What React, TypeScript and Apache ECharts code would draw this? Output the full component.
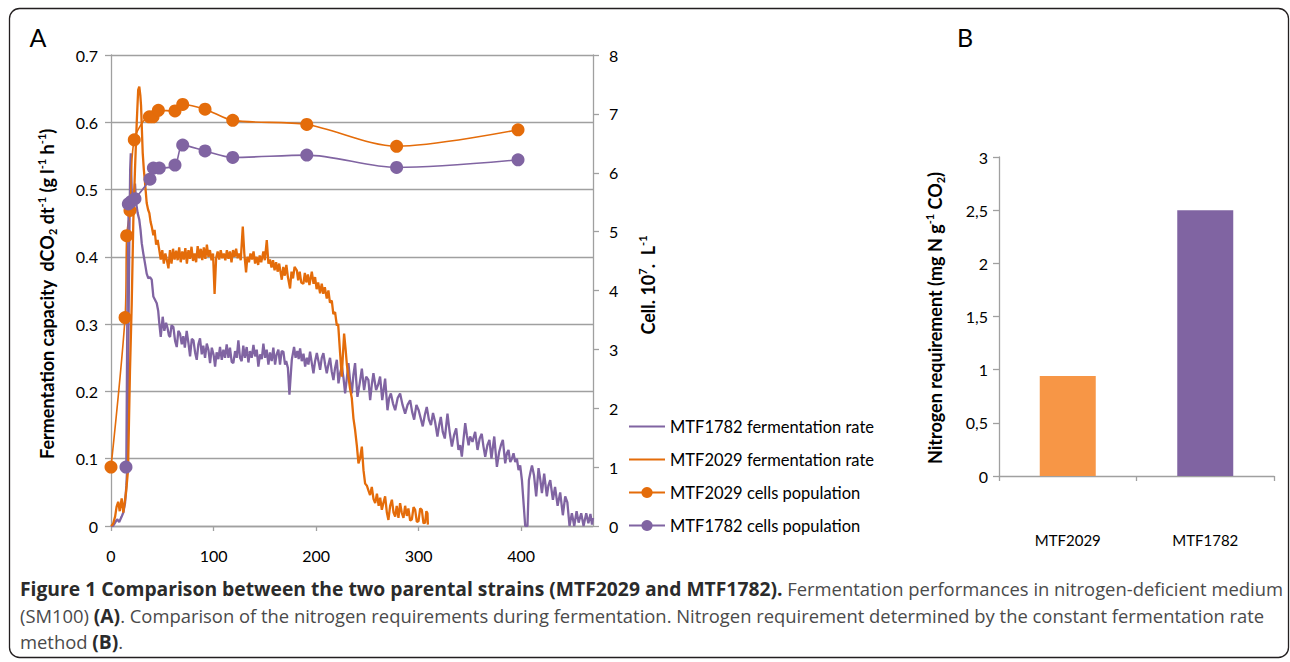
import React, { useEffect, useRef } from "react";
import * as echarts from "echarts";

// ---------- Panel A data ----------
const xTicksA = [0, 100, 200, 300, 400];
const rateTicks = [0, 0.1, 0.2, 0.3, 0.4, 0.5, 0.6, 0.7];
const cellTicks = [0, 1, 2, 3, 4, 5, 6, 7, 8];

// MTF2029 cells population (time h, cells 10^7/L)
const mtf2029CellTimes = [0, 13.7, 15.3, 18.5, 22.7, 37.4, 41, 46.2, 62.4, 69.9, 91.7, 118.7, 190.9, 278.5, 396.9];
const mtf2029Cells = [1.0, 3.54, 4.93, 5.36, 6.56, 6.95, 6.95, 7.06, 7.05, 7.16, 7.08, 6.89, 6.82, 6.45, 6.73];

// MTF1782 cells population
const mtf1782CellTimes = [14.6, 16.9, 19.5, 23.4, 38, 41.3, 47.1, 62.4, 69.9, 91.7, 118.7, 190.9, 278.5, 396.9];
const mtf1782Cells = [1.0, 5.47, 5.51, 5.56, 5.89, 6.08, 6.08, 6.13, 6.47, 6.37, 6.26, 6.3, 6.09, 6.22];

// MTF2029 fermentation rate [time h, dCO2/dt]
const mtf2029Rate = [
  [0, 0], [2, 0.003], [4, 0.014], [5.5, 0.029], [7, 0.036], [8.5, 0.022], [10.4, 0.041], [12, 0.02], [14.6, 0.049],
  [16.6, 0.083], [18.5, 0.23], [20.2, 0.33], [21.8, 0.455], [23.4, 0.53], [25.1, 0.6], [26.5, 0.648], [27.6, 0.653],
  [28.6, 0.64], [29.3, 0.625], [30.9, 0.555], [32, 0.53], [33.2, 0.51], [34.8, 0.48], [36.2, 0.47], [37.4, 0.465],
  [38.6, 0.452], [39.7, 0.445], [41.3, 0.432], [42.5, 0.44], [44, 0.418], [45.5, 0.425], [47.1, 0.41], [48.5, 0.396],
  [50, 0.41], [51.5, 0.39], [53, 0.405], [54.5, 0.395], [56, 0.383], [57.5, 0.41], [59, 0.39], [60.5, 0.412],
  [62, 0.396], [63.5, 0.409], [65, 0.395], [66.5, 0.414], [68, 0.392], [69.5, 0.408], [71, 0.396], [72.5, 0.413],
  [74, 0.39], [75.5, 0.41], [77, 0.397], [78.5, 0.415], [80, 0.394], [81.5, 0.405], [83, 0.392], [84.5, 0.416],
  [86, 0.398], [87.5, 0.412], [89, 0.395], [90.5, 0.414], [92, 0.397], [93.5, 0.418], [95, 0.4], [96.5, 0.41],
  [98, 0.395], [99.5, 0.405], [101, 0.345], [102.5, 0.398], [104, 0.408], [105.5, 0.396], [107, 0.41], [108.5, 0.398],
  [110, 0.405], [111.5, 0.395], [113, 0.41], [114.5, 0.397], [116, 0.408], [117.5, 0.392], [119, 0.41], [120.5, 0.4],
  [122, 0.412], [123.5, 0.398], [125, 0.405], [126.5, 0.395], [128.5, 0.445], [130, 0.405], [131.7, 0.377], [133, 0.4],
  [134.5, 0.392], [136, 0.405], [137.5, 0.396], [139, 0.408], [140.5, 0.39], [142, 0.4], [143.5, 0.388], [145, 0.402],
  [146.5, 0.392], [148.6, 0.408], [150, 0.395], [151.9, 0.425], [153.5, 0.39], [155, 0.396], [156.5, 0.384], [158, 0.395],
  [159.5, 0.38], [161, 0.392], [162.5, 0.378], [164, 0.39], [166.5, 0.366], [168, 0.385], [169.5, 0.372], [171, 0.388],
  [172.5, 0.37], [174.6, 0.353], [176, 0.378], [177.5, 0.368], [179, 0.385], [181.2, 0.38], [182.5, 0.365], [184, 0.378],
  [185.5, 0.362], [187.6, 0.36], [189, 0.376], [190.5, 0.362], [192, 0.374], [193.5, 0.358], [195.8, 0.378], [197.5, 0.36],
  [199, 0.37], [200.5, 0.352], [202, 0.362], [203.9, 0.346], [205.5, 0.36], [207, 0.345], [208.5, 0.355], [210.4, 0.338],
  [212, 0.35], [213.5, 0.332], [215.3, 0.335], [216.8, 0.315], [218.5, 0.318], [220.2, 0.298], [221.5, 0.3], [223.4, 0.257],
  [225, 0.222], [226, 0.25], [227.3, 0.286], [228.8, 0.262], [230, 0.24], [231.5, 0.222], [233, 0.205], [234.8, 0.19],
  [236.4, 0.16], [238, 0.143], [239.7, 0.12], [241.3, 0.093], [242.8, 0.1], [244.6, 0.118], [246.2, 0.083], [247.8, 0.063],
  [249.5, 0.06], [251, 0.053], [252.6, 0.046], [254.3, 0.058], [256, 0.04], [257.6, 0.034], [259.3, 0.048], [261, 0.03],
  [262.5, 0.042], [264.1, 0.024], [265.7, 0.035], [267.3, 0.044], [269, 0.02], [270.5, 0.009], [272.2, 0.03], [273.9, 0.039],
  [275.5, 0.02], [277.1, 0.014], [278.6, 0.03], [280.3, 0.012], [281.9, 0.034], [283.5, 0.02], [285.2, 0.012], [286.8, 0.03],
  [288.5, 0.015], [290, 0.026], [291.7, 0.008], [293.4, 0.01], [295, 0.028], [296.6, 0.024], [298.2, 0.006], [299.8, 0.007],
  [301.5, 0.026], [303.1, 0.024], [304.7, 0.004], [306.3, 0.005], [307.5, 0.022], [308.6, 0.019], [309, 0.002],
];

// MTF1782 fermentation rate [time h, dCO2/dt]
const mtf1782Rate = [
  [0, 0], [2, 0], [4, 0.005], [6, 0.01], [8, 0.006], [10.4, 0.014], [12, 0.02], [13.7, 0.034], [15, 0.06], [15.9, 0.09],
  [16.8, 0.25], [17.9, 0.43], [18.7, 0.53], [19.3, 0.554], [20.2, 0.5], [21.1, 0.47], [22.3, 0.49], [23.4, 0.509],
  [24.5, 0.48], [26, 0.465], [27.6, 0.455], [28.8, 0.44], [30, 0.42], [31.5, 0.405], [33.2, 0.39], [34.8, 0.375],
  [36.4, 0.368], [38, 0.37], [39.7, 0.366], [41.3, 0.341], [43, 0.336], [44.6, 0.331], [46, 0.32], [47.1, 0.301],
  [48.5, 0.281], [50.4, 0.311], [52, 0.29], [53.7, 0.302], [55, 0.295], [56.5, 0.283], [57.6, 0.281], [59, 0.298],
  [60.8, 0.296], [62.5, 0.275], [64.1, 0.266], [65.7, 0.29], [67.3, 0.286], [69, 0.27], [70.5, 0.282], [72, 0.265],
  [73.8, 0.29], [75.5, 0.272], [77.1, 0.252], [78.8, 0.278], [80.4, 0.276], [82, 0.258], [83.6, 0.247], [85.2, 0.27],
  [86.8, 0.279], [88.5, 0.255], [90, 0.268], [91.7, 0.25], [93.4, 0.271], [95, 0.262], [96.6, 0.242], [98.3, 0.265],
  [100, 0.255], [101.5, 0.237], [103, 0.258], [104.7, 0.248], [106.3, 0.266], [108, 0.247], [109.6, 0.262], [111.2, 0.25],
  [112.8, 0.27], [114.5, 0.25], [116, 0.265], [117.7, 0.244], [119.3, 0.242], [121, 0.26], [122.6, 0.25], [124.2, 0.276],
  [125.8, 0.25], [127.4, 0.245], [129, 0.268], [130.6, 0.25], [132.3, 0.266], [134, 0.243], [135.5, 0.26], [137.2, 0.25],
  [138.9, 0.269], [140.5, 0.252], [142.1, 0.262], [143.7, 0.237], [145.3, 0.255], [147, 0.248], [148.6, 0.271], [150.2, 0.25],
  [151.8, 0.262], [153.5, 0.24], [155, 0.258], [156.7, 0.245], [158.3, 0.265], [160, 0.24], [161.5, 0.255], [163.2, 0.262],
  [164.8, 0.24], [166.4, 0.26], [168.1, 0.259], [169.7, 0.24], [170.8, 0.245], [172.5, 0.235], [174, 0.195], [175.3, 0.225],
  [176.3, 0.247], [178.5, 0.266], [180, 0.25], [181.7, 0.26], [183, 0.248], [184.4, 0.264], [186, 0.245], [187.7, 0.256],
  [189.3, 0.237], [191, 0.25], [192.5, 0.24], [194.1, 0.259], [195.8, 0.242], [197.4, 0.227], [199, 0.245], [200.7, 0.257],
  [202.3, 0.245], [203.9, 0.232], [205.5, 0.25], [207.1, 0.257], [208.8, 0.24], [210.4, 0.227], [212, 0.24], [213.6, 0.25],
  [215.2, 0.23], [216.9, 0.217], [218.5, 0.235], [220.2, 0.247], [221.8, 0.212], [223.5, 0.228], [225.1, 0.237], [226.7, 0.22],
  [228.3, 0.197], [230, 0.22], [231.5, 0.242], [233.2, 0.215], [234.8, 0.197], [236.4, 0.225], [238, 0.242], [239.2, 0.215],
  [240.3, 0.192], [242.5, 0.212], [244.6, 0.234], [246.8, 0.202], [248.8, 0.222], [251, 0.217], [252.7, 0.187], [254.3, 0.21],
  [255.9, 0.227], [258.5, 0.202], [260.5, 0.21], [262.4, 0.222], [264.5, 0.187], [267.3, 0.219], [269.6, 0.172], [271.2, 0.19],
  [272.9, 0.197], [275, 0.182], [277.1, 0.172], [279.5, 0.19], [281.9, 0.197], [284.3, 0.18], [286.8, 0.167], [289.2, 0.18],
  [291.7, 0.187], [293.6, 0.17], [295.6, 0.158], [297.8, 0.18], [300, 0.172], [302, 0.16], [304, 0.148], [306, 0.165],
  [307.9, 0.177], [310, 0.158], [312, 0.15], [314, 0.168], [316, 0.155], [318.3, 0.133], [320, 0.15], [321.6, 0.162],
  [323.5, 0.14], [325.5, 0.13], [328.1, 0.167], [330.2, 0.14], [332.4, 0.118], [334.5, 0.135], [336.6, 0.145], [338.8, 0.113],
  [340.5, 0.12], [342.1, 0.103], [343.8, 0.13], [345.4, 0.153], [347, 0.135], [348.7, 0.12], [350.2, 0.133], [352.5, 0.125],
  [355.1, 0.14], [357.4, 0.113], [359.5, 0.13], [361.5, 0.137], [363.2, 0.118], [364.9, 0.103], [367, 0.12], [369, 0.128],
  [371, 0.1], [373.7, 0.133], [376.3, 0.088], [378.5, 0.11], [380.2, 0.12], [382.1, 0.128], [384.4, 0.093], [386, 0.108],
  [387.6, 0.113], [389.3, 0.095], [390.9, 0.1], [392.5, 0.108], [394.2, 0.095], [395.8, 0.1], [397.4, 0.083], [399, 0.09],
  [400.7, 0.068], [402.3, 0.034], [403.9, 0], [406.1, 0], [407.5, 0.068], [409, 0.08], [410.5, 0.09], [412.5, 0.075],
  [414.6, 0.044], [416.9, 0.086], [418.5, 0.07], [420.2, 0.049], [422.4, 0.078], [425, 0.044], [426.5, 0.06], [428.3, 0.068],
  [430.9, 0.039], [433, 0.058], [435.5, 0.03], [438, 0.05], [440.6, 0.016], [442.9, 0.044], [445, 0.035], [447.1, 0],
  [449.4, 0.019], [451.7, 0], [454, 0.022], [456, 0.005], [458.5, 0.019], [460.8, 0], [463.4, 0.019], [465.5, 0.004],
  [467.5, 0.018], [469, 0.002], [470, 0.012],
];

// ---------- Panel B data ----------
const strains = ["MTF2029", "MTF1782"];
const nitrogenRequirement = [0.94, 2.5];
const nitrogenTicks = [0, 0.5, 1, 1.5, 2, 2.5, 3];

const legendNames = [
  "MTF1782 fermentation rate",
  "MTF2029 fermentation rate",
  "MTF2029 cells population",
  "MTF1782 cells population",
];

const ORANGE = "#E46C0A";
const PURPLE = "#8064A2";
const BAR_ORANGE = "#F79646";
const GRAY = "#A0A0A0";
const FONT = "Lato, 'Liberation Sans', sans-serif";
const CAP_FONT = "'Open Sans', 'Noto Sans', sans-serif";
const CAP_SIZE = 18.4;
const CAP_BOLD_SIZE = 19.3;

export default function App() {
  const ref = useRef<HTMLDivElement>(null);

  useEffect(() => {
    if (!ref.current) return;
    const chart = echarts.init(ref.current, undefined, { renderer: "svg" });

    const pairs = (ts: number[], vs: number[]) => ts.map((t, i) => [t, vs[i]]);

    const axisLbl = { fontFamily: FONT, fontSize: 16, color: "#000" };
    const supRich = {
      b: { fontFamily: FONT, fontSize: 18, fontWeight: "bold" as const, color: "#000", lineHeight: 22, verticalAlign: "middle" as const },
      sup: { fontFamily: FONT, fontSize: 11, fontWeight: "bold" as const, color: "#000", lineHeight: 22, verticalAlign: "top" as const },
      sub: { fontFamily: FONT, fontSize: 11, fontWeight: "bold" as const, color: "#000", lineHeight: 22, verticalAlign: "bottom" as const },
    };
    const capRich = { bold: { fontFamily: CAP_FONT, fontSize: CAP_BOLD_SIZE, fontWeight: "bold", fill: "#2b2b2b" } };

    const option: any = {
      animation: false,
      backgroundColor: "#fff",
      grid: [
        { left: 111, top: 55, width: 482, height: 471, containLabel: false },
        { left: 999, top: 157, width: 275, height: 319, containLabel: false },
      ],
      legend: {
        data: legendNames.map((n, i) => (i < 2 ? { name: n, itemStyle: { opacity: 0 } } : { name: n })),
        orient: "vertical",
        left: 628,
        top: 418,
        padding: 0,
        itemWidth: 36,
        itemHeight: 14,
        itemGap: 16,
        textStyle: { ...axisLbl, fontSize: 16.5, lineHeight: 14 },
        selectedMode: false,
      },
      xAxis: [
        {
          type: "value",
          gridIndex: 0,
          min: xTicksA[0],
          max: 470,
          interval: 100,
          axisLine: { show: true, lineStyle: { color: GRAY, width: 1.3 } },
          axisTick: { show: true, length: 5, lineStyle: { color: GRAY, width: 1.3 } },
          axisLabel: { ...axisLbl, margin: 21, showMaxLabel: false },
          splitLine: { show: false },
        },
        {
          type: "category",
          gridIndex: 1,
          data: strains,
          axisLine: { show: true, lineStyle: { color: GRAY, width: 1.3 } },
          axisTick: { show: true, length: 5, lineStyle: { color: GRAY, width: 1.3 } },
          axisLabel: { ...axisLbl, fontSize: 15, margin: 56 },
          splitLine: { show: false },
        },
      ],
      yAxis: [
        {
          type: "value",
          gridIndex: 0,
          position: "left",
          min: rateTicks[0],
          max: rateTicks[rateTicks.length - 1],
          interval: 0.1,
          axisLine: { show: true, lineStyle: { color: GRAY, width: 1.3 } },
          axisTick: { show: true, length: 6, lineStyle: { color: GRAY, width: 1.3 } },
          axisLabel: { ...axisLbl, margin: 13 },
          splitLine: { show: true, lineStyle: { color: GRAY, width: 1.3 } },
        },
        {
          type: "value",
          gridIndex: 0,
          position: "right",
          min: cellTicks[0],
          max: cellTicks[cellTicks.length - 1],
          interval: 1,
          axisLine: { show: true, lineStyle: { color: GRAY, width: 1.3 } },
          axisTick: { show: true, length: 6, lineStyle: { color: GRAY, width: 1.3 } },
          axisLabel: { ...axisLbl, margin: 16 },
          splitLine: { show: false },
        },
        {
          type: "value",
          gridIndex: 1,
          min: nitrogenTicks[0],
          max: nitrogenTicks[nitrogenTicks.length - 1],
          interval: 0.5,
          axisLine: { show: true, lineStyle: { color: GRAY, width: 1.3 } },
          axisTick: { show: true, length: 6, lineStyle: { color: GRAY, width: 1.3 } },
          axisLabel: { ...axisLbl, margin: 11, formatter: (v: number) => String(v).replace(".", ",") },
          splitLine: { show: false },
        },
      ],
      series: [
        {
          name: legendNames[0],
          type: "line",
          xAxisIndex: 0,
          yAxisIndex: 0,
          data: mtf1782Rate,
          symbol: "none",
          lineStyle: { color: PURPLE, width: 2.3 },
          itemStyle: { color: PURPLE },
          z: 2,
        },
        {
          name: legendNames[1],
          type: "line",
          xAxisIndex: 0,
          yAxisIndex: 0,
          data: mtf2029Rate,
          symbol: "none",
          lineStyle: { color: ORANGE, width: 2.3 },
          itemStyle: { color: ORANGE },
          z: 3,
        },
        {
          name: legendNames[2],
          type: "line",
          xAxisIndex: 0,
          yAxisIndex: 1,
          data: pairs(mtf2029CellTimes, mtf2029Cells),
          symbol: "circle",
          symbolSize: 13,
          smooth: 0.3,
          lineStyle: { color: ORANGE, width: 1.6 },
          itemStyle: { color: ORANGE },
          z: 4,
        },
        {
          name: legendNames[3],
          type: "line",
          xAxisIndex: 0,
          yAxisIndex: 1,
          data: pairs(mtf1782CellTimes, mtf1782Cells),
          symbol: "circle",
          symbolSize: 13,
          smooth: 0.3,
          lineStyle: { color: PURPLE, width: 1.6 },
          itemStyle: { color: PURPLE },
          z: 4,
        },
        {
          name: "Nitrogen requirement",
          type: "bar",
          xAxisIndex: 1,
          yAxisIndex: 2,
          barWidth: 56,
          data: nitrogenRequirement.map((v, i) => ({
            value: v,
            itemStyle: { color: i === 0 ? BAR_ORANGE : PURPLE },
          })),
        },
      ],
      graphic: [
        {
          type: "rect",
          shape: { x: 9.5, y: 8.5, width: 1279, height: 649, r: 10 },
          style: { fill: "none", stroke: "#231f20", lineWidth: 1.3 },
          silent: true,
        },
        {
          type: "text",
          x: 38,
          y: 37,
          style: { text: "A", fontFamily: FONT, fontSize: 25, fill: "#000", align: "center", verticalAlign: "middle" },
        },
        {
          type: "text",
          x: 965,
          y: 37,
          style: { text: "B", fontFamily: FONT, fontSize: 25, fill: "#000", align: "center", verticalAlign: "middle" },
        },
        {
          type: "text",
          x: 47,
          y: 294,
          rotation: Math.PI / 2,
          style: {
            text: "{b|Fermentation capacity  dCO}{sub|2}{b| dt}{sup|-1}{b| (g l}{sup|-1}{b| h}{sup|-1}{b|)}",
            align: "center",
            verticalAlign: "middle",
            rich: supRich,
          },
        },
        {
          type: "text",
          x: 648,
          y: 285,
          rotation: Math.PI / 2,
          style: {
            text: "{b|Cell. 10}{sup|7}{b|.  L}{sup|-1}",
            align: "center",
            verticalAlign: "middle",
            rich: supRich,
          },
        },
        {
          type: "text",
          x: 935,
          y: 318,
          rotation: Math.PI / 2,
          style: {
            text: "{b|Nitrogen requirement (mg N g}{sup|-1}{b| CO}{sub|2}{b|)}",
            align: "center",
            verticalAlign: "middle",
            rich: supRich,
          },
        },
        {
          type: "text",
          x: 20,
          y: 588,
          style: {
            text: "{bold|Figure 1 Comparison between the two parental strains (MTF2029 and MTF1782).} Fermentation performances in nitrogen-deficient medium",
            fontFamily: CAP_FONT,
            fontSize: CAP_SIZE,
            fill: "#4a4a4a",
            verticalAlign: "middle",
            rich: capRich,
          },
        },
        {
          type: "text",
          x: 20,
          y: 615,
          style: {
            text: "(SM100) {bold|(A)}. Comparison of the nitrogen requirements during fermentation. Nitrogen requirement determined by the constant fermentation rate",
            fontFamily: CAP_FONT,
            fontSize: CAP_SIZE,
            fill: "#4a4a4a",
            verticalAlign: "middle",
            rich: capRich,
          },
        },
        {
          type: "text",
          x: 20,
          y: 641,
          style: {
            text: "method {bold|(B)}.",
            fontFamily: CAP_FONT,
            fontSize: CAP_SIZE,
            fill: "#4a4a4a",
            verticalAlign: "middle",
            rich: capRich,
          },
        },
      ],
    };

    chart.setOption(option);
    return () => chart.dispose();
  }, []);

  return (
    <div
      ref={ref}
      style={{ position: "fixed", left: 0, top: 0, width: 1290, height: 662, background: "#fff" }}
    />
  );
}
